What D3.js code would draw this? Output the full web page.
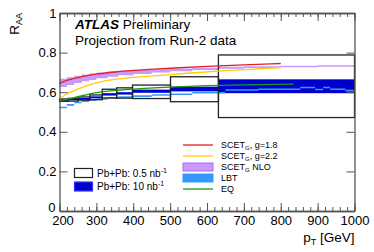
<!DOCTYPE html>
<html>
<head>
<meta charset="utf-8">
<script src="https://cdn.jsdelivr.net/npm/d3@7"></script>
<style>
  body { margin: 0; background: #fff; }
  svg text { font-family: "Liberation Sans", Arial, sans-serif; }
</style>
</head>
<body>
<div id="chart"></div>
<script>
// bins of the two projections (pT edges in GeV)
const binLo = [200, 224, 251, 282, 316, 355, 398, 501, 631];
const binHi = [224, 251, 282, 316, 355, 398, 501, 631, 1000];
// Pb+Pb 0.5 nb-1 (open boxes)
const raaLow = [0.560, 0.562, 0.568, 0.574, 0.593, 0.596, 0.602, 0.615, 0.630];
const errLow = [0.006, 0.007, 0.008, 0.012, 0.022, 0.026, 0.034, 0.063, 0.158];
// Pb+Pb 10 nb-1 (filled boxes)
const raaHigh = [0.561, 0.563, 0.566, 0.574, 0.589, 0.594, 0.605, 0.616, 0.630];
const errHigh = [0.004, 0.004, 0.005, 0.005, 0.006, 0.006, 0.008, 0.012, 0.035];

// SCET_G g=1.8
const scet18Pt = [200, 225, 250, 300, 350, 400, 500, 600, 700, 800];
const scet18 = [0.645, 0.662, 0.674, 0.691, 0.702, 0.710, 0.721, 0.730, 0.738, 0.745];
// SCET_G g=2.2
const scet22Pt = [200, 215, 240, 275, 310, 350, 400, 490, 555, 650, 800];
const scet22 = [0.565, 0.586, 0.608, 0.633, 0.652, 0.665, 0.675, 0.687, 0.697, 0.709, 0.724];
// SCET_G NLO band (step edges)
const nloPt = [200, 220, 240, 260, 280, 300, 330, 360, 400, 450, 500, 560, 630, 700, 800, 900, 1000];
const nloLo = [0.626, 0.636, 0.646, 0.655, 0.662, 0.670, 0.678, 0.685, 0.692, 0.700, 0.706, 0.712, 0.718, 0.722, 0.726, 0.728, 0.729];
const nloHi = [0.668, 0.676, 0.683, 0.690, 0.695, 0.700, 0.704, 0.708, 0.712, 0.716, 0.720, 0.724, 0.728, 0.731, 0.734, 0.736, 0.737];
// LBT band (step edges)
const lbtPt = [200, 220, 240, 260, 280, 300, 330, 360, 400, 450, 500, 560, 650, 740, 853, 893, 915, 934, 975, 1000];
const lbtVal = [0.523, 0.536, 0.548, 0.555, 0.561, 0.566, 0.571, 0.576, 0.580, 0.586, 0.590, 0.597, 0.611, 0.615, 0.624, 0.614, 0.624, 0.615, 0.608, 0.608];
// EQ
const eqPt = [200, 225, 250, 300, 350, 400, 500, 600, 700, 835];
const eqVal = [0.557, 0.566, 0.577, 0.598, 0.609, 0.616, 0.626, 0.633, 0.637, 0.641];

const xTicks = [200, 300, 400, 500, 600, 700, 800, 900, 1000];
const yTicks = [0, 0.2, 0.4, 0.6, 0.8, 1];

const W = 374, H = 252;
const x = d3.scaleLinear().domain([200, 1000]).range([59.5, 354.5]);
const y = d3.scaleLinear().domain([0, 1]).range([211, 13]);

const svg = d3.select("#chart").append("svg")
    .attr("width", W).attr("height", H);

const bins = binLo.map((lo, i) => ({ lo, hi: binHi[i], a: raaLow[i], ea: errLow[i], b: raaHigh[i], eb: errHigh[i] }));

// filled boxes for 10 nb-1
svg.append("g").selectAll("rect").data(bins).join("rect")
    .attr("x", d => x(d.lo)).attr("width", d => x(d.hi) - x(d.lo))
    .attr("y", d => y(d.b + d.eb)).attr("height", d => y(d.b - d.eb) - y(d.b + d.eb))
    .attr("fill", "#0000cc");

// SCET NLO band
const nlo = nloPt.map((p, i) => ({ p, lo: nloLo[i], hi: nloHi[i] }));
svg.append("path").datum(nlo)
    .attr("fill", "#c999fb")
    .attr("d", d3.area().curve(d3.curveStepAfter).x(d => x(d.p)).y0(d => y(d.lo)).y1(d => y(d.hi)));

// LBT band
const lbt = lbtPt.map((p, i) => ({ p, v: lbtVal[i] }));
svg.append("path").datum(lbt)
    .attr("fill", "#3399ff")
    .attr("d", d3.area().curve(d3.curveStepAfter).x(d => x(d.p)).y0(d => y(d.v - 0.004)).y1(d => y(d.v + 0.004)));

// open boxes for 0.5 nb-1
svg.append("g").selectAll("rect").data(bins).join("rect")
    .attr("x", d => x(d.lo)).attr("width", d => x(d.hi) - x(d.lo))
    .attr("y", d => y(d.a + d.ea)).attr("height", d => y(d.a - d.ea) - y(d.a + d.ea))
    .attr("fill", "none").attr("stroke", "#222").attr("stroke-width", 1.3);

// theory curves
const line = d3.line().curve(d3.curveMonotoneX).x(d => x(d[0])).y(d => y(d[1]));
const curves = [
    { pts: eqPt.map((p, i) => [p, eqVal[i]]), color: "#1a9a1a" },
    { pts: scet22Pt.map((p, i) => [p, scet22[i]]), color: "#ffcc00" },
    { pts: scet18Pt.map((p, i) => [p, scet18[i]]), color: "#dd2222" }
];
curves.forEach(c => {
    svg.append("path").attr("d", line(c.pts))
        .attr("fill", "none").attr("stroke", c.color).attr("stroke-width", 1.3);
});

// axes (ROOT style, ticks inside)
const axisColor = "#555";
function styleAxis(g) {
    g.selectAll(".domain").attr("stroke", axisColor).attr("stroke-width", 1.3);
    g.selectAll(".tick line").attr("stroke", axisColor);
    g.selectAll("text").attr("font-size", 13).attr("fill", "#000")
        .attr("font-family", "Liberation Sans, Arial, sans-serif");
}
const minor = d3.range(200, 1001, 20);
svg.append("g").attr("transform", `translate(0,${y(0)})`)
    .call(d3.axisBottom(x).tickValues(minor).tickSizeInner(-4).tickSizeOuter(0).tickFormat(""))
    .call(styleAxis);
const xAxis = svg.append("g").attr("transform", `translate(0,${y(0)})`)
    .call(d3.axisBottom(x).tickValues(xTicks).tickSizeInner(-8).tickSizeOuter(0).tickPadding(5).tickFormat(d3.format("d")))
    .call(styleAxis);
// first label sits a bit right of its tick, as in the original
xAxis.selectAll(".tick text").filter(d => d === 200).attr("dx", 3);
svg.append("g").attr("transform", `translate(0,${y(1)})`)
    .call(d3.axisTop(x).tickValues(minor).tickSizeInner(-4).tickSizeOuter(0).tickFormat(""))
    .call(styleAxis);
svg.append("g").attr("transform", `translate(0,${y(1)})`)
    .call(d3.axisTop(x).tickValues(xTicks).tickSizeInner(-8).tickSizeOuter(0).tickFormat(""))
    .call(styleAxis);
const yAxis = svg.append("g").attr("transform", `translate(${x(200)},0)`)
    .call(d3.axisLeft(y).tickValues(yTicks).tickSizeInner(-8).tickSizeOuter(0).tickPadding(3)
        .tickFormat(d => d === 0 || d === 1 ? d3.format("d")(d) : d3.format(".1f")(d)))
    .call(styleAxis);
// keep the "0" clear of the "200" below it
yAxis.selectAll(".tick text").filter(d => d === 0).attr("dy", "0.02em").attr("dx", -1);
svg.append("g").attr("transform", `translate(${x(1000)},0)`)
    .call(d3.axisRight(y).tickValues(yTicks).tickSizeInner(-8).tickSizeOuter(0).tickFormat(""))
    .call(styleAxis);

// axis titles
const xt = svg.append("text").attr("x", x(1000)).attr("y", 242)
    .attr("text-anchor", "end").attr("font-size", 13.5);
xt.append("tspan").text("p");
xt.append("tspan").attr("font-size", 9).attr("dy", 3).text("T");
xt.append("tspan").attr("dy", -3).text(" [GeV]");

const yt = svg.append("text").attr("transform", `translate(18.5,${y(1)}) rotate(-90)`)
    .attr("text-anchor", "end").attr("font-size", 13.5);
yt.append("tspan").text("R");
yt.append("tspan").attr("font-size", 9).attr("dy", 3).text("AA");

// ATLAS label
const t1 = svg.append("text").attr("x", 75).attr("y", 29).attr("font-size", 13.5);
t1.append("tspan").attr("font-weight", "bold").attr("font-style", "italic").text("ATLAS");
t1.append("tspan").text(" Preliminary");
svg.append("text").attr("x", 75).attr("y", 45).attr("font-size", 13.5).text("Projection from Run-2 data");

// left legend
const leftLeg = [
    { label: "Pb+Pb: 0.5 nb", fill: "#fff", stroke: "#222" },
    { label: "Pb+Pb: 10 nb", fill: "#0000cc", stroke: "#3333ff" }
];
leftLeg.forEach((d, i) => {
    const yy = 168.5 + i * 13.5;
    svg.append("rect").attr("x", 74.5).attr("y", yy).attr("width", 18).attr("height", 9)
        .attr("fill", d.fill).attr("stroke", d.stroke).attr("stroke-width", 1.2);
    const t = svg.append("text").attr("x", 97).attr("y", yy + 8).attr("font-size", 10);
    t.append("tspan").text(d.label);
    t.append("tspan").attr("font-size", 7).attr("dy", -4).text("-1");
});

// right legend
const rightLeg = [
    { main: "SCET", sub: "G", rest: ", g=1.8", type: "line", color: "#dd2222" },
    { main: "SCET", sub: "G", rest: ", g=2.2", type: "line", color: "#ffcc00" },
    { main: "SCET", sub: "G", rest: " NLO", type: "box", color: "#c999fb", stroke: "#aa66ff" },
    { main: "LBT", sub: "", rest: "", type: "box", color: "#3399ff", stroke: "#3399ff" },
    { main: "EQ", sub: "", rest: "", type: "line", color: "#1a9a1a" }
];
rightLeg.forEach((d, i) => {
    const yy = 145 + i * 11;
    if (d.type === "line") {
        svg.append("line").attr("x1", 183).attr("x2", 213).attr("y1", yy).attr("y2", yy)
            .attr("stroke", d.color).attr("stroke-width", 1.3);
    } else {
        svg.append("rect").attr("x", 183).attr("y", yy - 4).attr("width", 30).attr("height", 8)
            .attr("fill", d.color).attr("stroke", d.stroke).attr("stroke-width", 1);
    }
    const t = svg.append("text").attr("x", 221).attr("y", yy + 3).attr("font-size", 9);
    t.append("tspan").text(d.main);
    if (d.sub) {
        t.append("tspan").attr("font-size", 6).attr("dy", 2).text(d.sub);
        t.append("tspan").attr("dy", -2).text(d.rest);
    }
});
</script>
</body>
</html>
